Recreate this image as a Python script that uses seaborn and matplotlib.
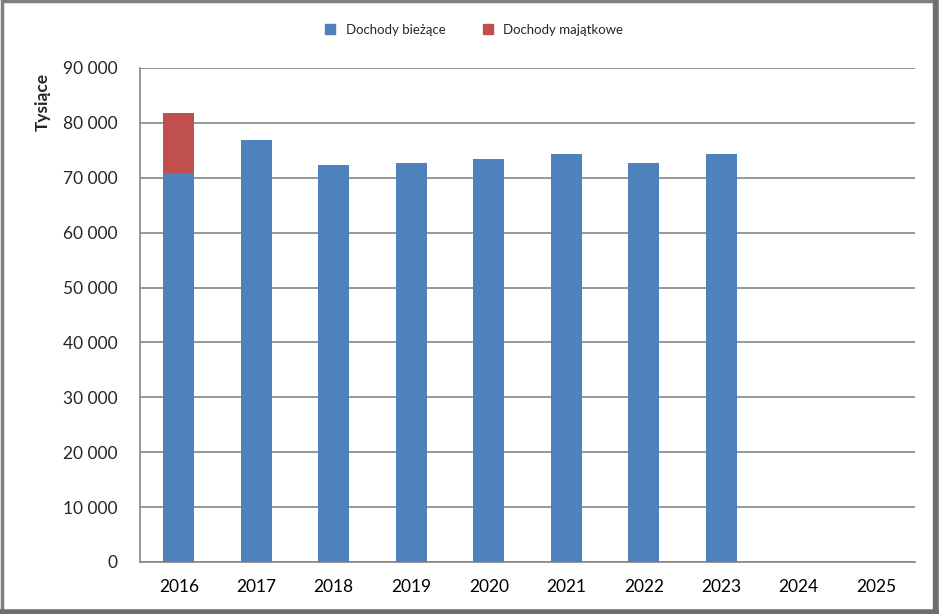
import matplotlib
matplotlib.use("Agg")
import matplotlib.pyplot as plt
import matplotlib.ticker as mticker
from matplotlib.lines import Line2D
from matplotlib.patches import Rectangle
import seaborn as sns
import pandas as pd
import numpy as np

years = ["2016", "2017", "2018", "2019", "2020", "2021", "2022", "2023", "2024", "2025"]
biezace = [70900, 76900, 72300, 72700, 73400, 74300, 72700, 74300, 0, 0]
majatkowe = [10950, 0, 0, 0, 0, 0, 0, 0, 0, 0]

blue = "#4f81bd"
red = "#c0504d"
grid_col = "#868686"

df = pd.DataFrame({"rok": years, "biezace": biezace, "majatkowe": majatkowe})
df["razem"] = df["biezace"] + df["majatkowe"]

sns.set_style("white")
plt.rcParams["font.family"] = ["Lato", "DejaVu Sans"]

fig = plt.figure(figsize=(9.39, 6.14), dpi=100)
ax = fig.add_axes([140 / 939, 1 - 562 / 614, 775 / 939, 494 / 614])

sns.barplot(data=df, x="rok", y="razem", color=red, width=0.4, ax=ax,
            saturation=1, linewidth=0, zorder=3)
sns.barplot(data=df, x="rok", y="biezace", color=blue, width=0.4, ax=ax,
            saturation=1, linewidth=0, zorder=4)

ax.set_xlim(-0.5, len(years) - 0.5)
ax.set_ylim(0, 90000)
ax.yaxis.set_major_locator(mticker.MultipleLocator(10000))
ax.yaxis.set_major_formatter(
    mticker.FuncFormatter(lambda v, p: "{:,.0f}".format(v).replace(",", " ")))
ax.grid(axis="y", color=grid_col, linewidth=1.2, zorder=0)
ax.set_axisbelow(True)

for s in ["top", "right"]:
    ax.spines[s].set_visible(False)
for s in ["left", "bottom"]:
    ax.spines[s].set_color(grid_col)
    ax.spines[s].set_linewidth(1.2)

ax.set_xticks(np.arange(-0.5, len(years)), minor=True)
ax.tick_params(axis="x", which="major", length=0, pad=12, labelsize=12.5,
               colors="black")
ax.tick_params(axis="x", which="minor", length=7, width=1.2, color=grid_col)
ax.tick_params(axis="y", which="major", length=7, width=1.2, color=grid_col,
               labelsize=12.5, pad=9)
ax.set_xlabel("")
ax.set_ylabel("")
fig.text(43 / 939, 1 - 102 / 614, "Tysiące", rotation=90, ha="center",
         va="center", fontsize=12.5, fontweight="bold")

handles = [
    Line2D([], [], marker="s", linestyle="", markersize=7, color=blue),
    Line2D([], [], marker="s", linestyle="", markersize=7, color=red),
]
fig.legend(handles, ["Dochody bieżące", "Dochody majątkowe"], loc="center",
           bbox_to_anchor=(470 / 939, 1 - 30 / 614), ncol=2, frameon=False,
           fontsize=9.5, handletextpad=0.2, columnspacing=2.2)

# outer frame with heavier right/bottom edges
fig.patches.append(Rectangle((0.002, 0.004), 0.993, 0.994, transform=fig.transFigure,
                             fill=False, edgecolor="#7f7f7f", linewidth=2.5))
fig.add_artist(Line2D([0.997, 0.997], [0.0, 1.0], transform=fig.transFigure,
                      color="#6e6e6e", linewidth=4))
fig.add_artist(Line2D([0.0, 1.0], [0.004, 0.004], transform=fig.transFigure,
                      color="#6e6e6e", linewidth=4))

fig.savefig("out.png", dpi=100)
